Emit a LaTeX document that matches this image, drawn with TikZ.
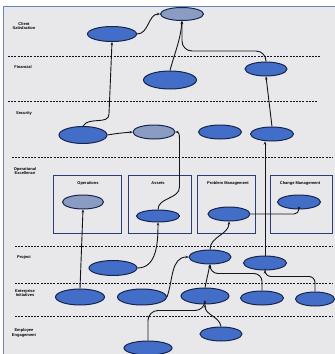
\documentclass[tikz,border=0pt]{standalone}
\usepackage{fontspec}
\setmainfont{Liberation Sans}
\usepackage{tikz}
\usetikzlibrary{shapes.geometric, arrows.meta, calc}
\definecolor{panelbg}{rgb}{0.91,0.91,0.92}
\definecolor{framecol}{rgb}{0.40,0.52,0.72}
\definecolor{ovalblue}{rgb}{0.26,0.43,0.78}
\definecolor{ovalgrey}{rgb}{0.54,0.61,0.76}
\definecolor{ovalline}{rgb}{0.10,0.14,0.30}
\definecolor{boxline}{rgb}{0.17,0.24,0.47}
\definecolor{linecol}{rgb}{0.08,0.08,0.12}

\begin{document}
\begin{tikzpicture}[x=1pt, y=1pt,
    oval/.style={ellipse, draw=ovalline, fill=ovalblue, line width=1pt, inner sep=0pt},
    greyoval/.style={oval, fill=ovalgrey},
    box/.style={rectangle, draw=boxline, line width=0.9pt, minimum height=58pt},
    lbl/.style={font=\fontsize{4}{4.6}\selectfont\bfseries, align=center, inner sep=0pt},
    divider/.style={line width=0.9pt, draw=linecol, dash pattern=on 2pt off 1.2pt},
    arrow/.style={-{Stealth[length=3pt, width=2.5pt]}, line width=0.9pt, draw=linecol}
]

\useasboundingbox (0,0) rectangle (335,-354);
\fill[white] (0,0) rectangle (335,-354);
\fill[panelbg] (3,-6.5) rectangle (335,-354);
\draw[framecol, line width=1pt] (3,-354) -- (3,-6.5) -- (335,-6.5);

\draw[divider] (8,-56) -- (320,-56);
\draw[divider] (8,-101) -- (317,-101);
\draw[divider] (12,-157) -- (333,-157);
\draw[divider] (15,-246) -- (333,-246);
\draw[divider] (15,-283) -- (333,-283);
\draw[divider] (15,-316) -- (333,-316);

\node[lbl] (lclient) at (24,-26) {Client\\Satisfaction};
\node[lbl] (lfin) at (23,-67) {Financial};
\node[lbl] (lsec) at (24,-113) {Security};
\node[lbl] (lops) at (25,-171) {Operational\\Excellence};
\node[lbl] (lprj) at (24,-257) {Project};
\node[lbl] (lent) at (25,-293) {Enterprise\\Initiatives};
\node[lbl] (lemp) at (24,-333) {Employee\\Engagement};

\node[box, minimum width=68pt] (bops) at (87,-204) {};
\node[box, minimum width=63pt] (bast) at (159.5,-204) {};
\node[box, minimum width=58pt] (bpm) at (226,-204) {};
\node[box, minimum width=62pt] (bchg) at (301,-204) {};
\node[lbl] (tops) at (88,-183) {Operations};
\node[lbl] (tast) at (158,-183) {Assets};
\node[lbl] (tpm) at (228,-183) {Problem Management};
\node[lbl] (tchg) at (300,-183) {Change Management};

\node[oval, minimum width=49pt, minimum height=15pt] (cs1) at (112,-34) {};
\node[greyoval, minimum width=43pt, minimum height=13pt] (cs2) at (182,-14) {};
\node[oval, minimum width=53pt, minimum height=18pt] (fin1) at (170,-80) {};
\node[oval, minimum width=42pt, minimum height=14pt] (fin2) at (266,-69) {};
\node[oval, minimum width=48pt, minimum height=17pt] (sec1) at (83,-135) {};
\node[greyoval, minimum width=42pt, minimum height=14pt] (sec2) at (154,-132) {};
\node[oval, minimum width=43pt, minimum height=14pt] (sec3) at (220,-132) {};
\node[oval, minimum width=43pt, minimum height=14pt] (sec4) at (272,-134) {};
\node[greyoval, minimum width=41pt, minimum height=14pt] (ops) at (83,-202) {};
\node[oval, minimum width=43pt, minimum height=12pt] (ast) at (158,-216) {};
\node[oval, minimum width=42pt, minimum height=14pt] (pm) at (229,-214) {};
\node[oval, minimum width=43pt, minimum height=14pt] (chg) at (299,-202) {};
\node[oval, minimum width=48pt, minimum height=15pt] (prj1) at (113,-268) {};
\node[oval, minimum width=42pt, minimum height=14pt] (prj2) at (210,-257) {};
\node[oval, minimum width=43pt, minimum height=14pt] (prj3) at (265,-263) {};
\node[oval, minimum width=49pt, minimum height=16pt] (ent1) at (80,-297) {};
\node[oval, minimum width=49pt, minimum height=16pt] (ent2) at (142,-297) {};
\node[oval, minimum width=48pt, minimum height=16pt] (ent3) at (205,-296) {};
\node[oval, minimum width=43pt, minimum height=14pt] (ent4) at (262,-298) {};
\node[oval, minimum width=39pt, minimum height=14pt] (ent5) at (315,-299) {};
\node[oval, minimum width=42pt, minimum height=14pt] (emp1) at (221,-334) {};
\node[oval, minimum width=48pt, minimum height=14pt] (emp2) at (148,-348) {};

\draw[arrow] (sec1.north) to[out=60,in=-90] ($(cs1.south)+(-3,-72)$) -- (cs1.south);
\draw[arrow] (cs1.east) to[out=0,in=180] (cs2.west);
\draw[arrow] (fin1.north) to[out=75,in=-95] (cs2.south);
\draw[arrow, rounded corners=10pt] (fin2.north) |- ($(cs2.south)+(0,-30)$) -- (cs2.south);
\draw[arrow] (sec4.north) -- (fin2.south);
\draw[arrow] (sec1.east) to[out=10,in=185] (sec2.west);
\draw[arrow] (ast.north) to[out=90,in=-90] ($(sec2.east)+(4,-55)$) -- ($(sec2.east)+(4,-10)$) to[out=90,in=0] (sec2.east);
\draw[arrow] (prj3.north) -- (prj3.north |- sec4.south);
\draw[arrow] (ent1.north) -- (ops.south);
\draw[arrow] (prj1.east) to[out=0,in=-90] (ast.south);
\draw[arrow] (prj2.north) to[out=90,in=-90] (pm.south);
\draw[arrow, rounded corners=5pt] (pm.east) -| (chg.south);
\draw[arrow] (ent2.east) to[out=70,in=180] (prj2.west);
\draw[arrow] (ent3.north) -- (prj2.south);
\draw[arrow, rounded corners=8pt] (ent4.north) |- ($(prj2.south)+(0,-9)$) -- (prj2.south);
\draw[arrow, rounded corners=6pt] (ent5.north) |- ($(prj3.south)+(0,-6)$) -- (prj3.south);
\draw[arrow, rounded corners=10pt] (emp2.north) |- ($(ent3.south)+(0,-6)$) -- (ent3.south);
\draw[arrow] (emp1.north) to[out=100,in=-90] (ent3.south);

\end{tikzpicture}
\end{document}
